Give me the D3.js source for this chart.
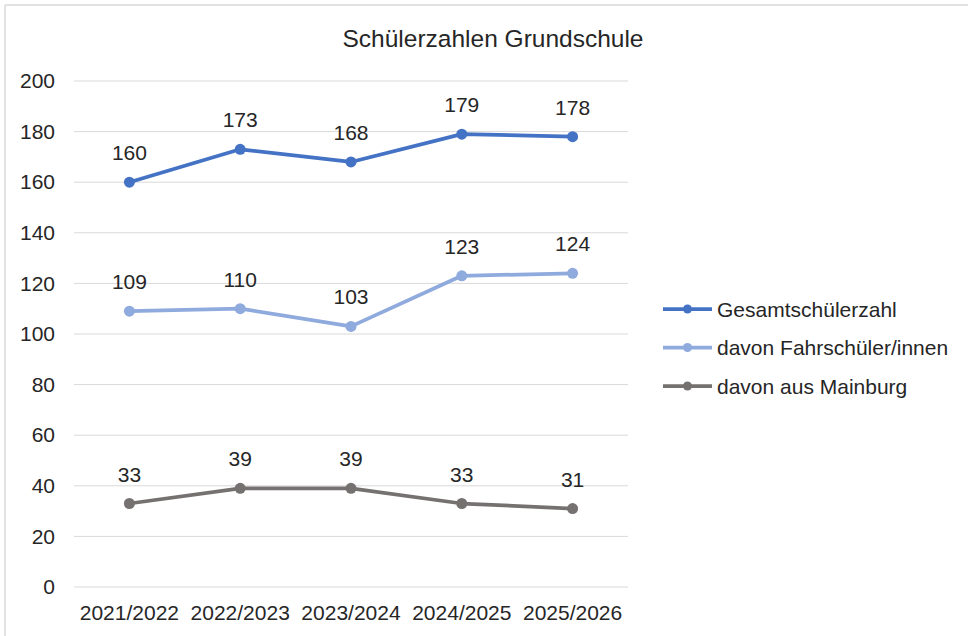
<!DOCTYPE html>
<html>
<head>
<meta charset="utf-8">
<script src="https://cdn.jsdelivr.net/npm/d3@7"></script>
<style>
  body { margin: 0; background: #fff; }
  text { font-family: "Liberation Sans", Arial, sans-serif; fill: #262626; }
  .grid line { stroke: #d9d9d9; stroke-width: 1; }
</style>
</head>
<body>
<script>
(function(){

//chart data
var categories = ["2021/2022", "2022/2023", "2023/2024", "2024/2025", "2025/2026"];
var seriesNames = ["Gesamtschülerzahl", "davon Fahrschüler/innen", "davon aus Mainburg"];
var gesamt = [160, 173, 168, 179, 178];
var fahrschueler = [109, 110, 103, 123, 124];
var mainburg = [33, 39, 39, 33, 31];
var yTicks = [0, 20, 40, 60, 80, 100, 120, 140, 160, 180, 200];
var colors = ["#4472c4", "#8faadc", "#767171"];

var series = [gesamt, fahrschueler, mainburg];

var width = 968, height = 636;

var svg = d3.select("body").append("svg")
    .attr("width", width)
    .attr("height", height);

//chart frame (cropped: only top and left edges visible)
svg.append("line").attr("x1", 5).attr("x2", width).attr("y1", 5).attr("y2", 5)
    .attr("stroke", "#d9d9d9").attr("stroke-width", 1.5);
svg.append("line").attr("x1", 5).attr("x2", 5).attr("y1", 5).attr("y2", height)
    .attr("stroke", "#d9d9d9").attr("stroke-width", 1.5);

//plot area
var x = d3.scaleBand().domain(categories).range([74, 628]);
var y = d3.scaleLinear().domain([0, 200]).range([587, 81]);

//gridlines
svg.append("g").attr("class", "grid")
    .selectAll("line")
    .data(yTicks)
    .enter()
    .append("line")
    .attr("x1", 74).attr("x2", 628)
    .attr("y1", function(d){ return y(d); })
    .attr("y2", function(d){ return y(d); });

//y axis labels
var yAxis = d3.axisLeft(y).tickValues(yTicks).tickSize(0).tickPadding(0);
var yg = svg.append("g").attr("transform", "translate(55,0)").call(yAxis);
yg.select(".domain").remove();
yg.selectAll("text").style("font-size", "21px").attr("fill", "#262626");

//x axis labels
var xAxis = d3.axisBottom(x).tickSize(0).tickPadding(0);
var xg = svg.append("g").attr("transform", "translate(0,605)").call(xAxis);
xg.select(".domain").remove();
xg.selectAll("text").style("font-size", "21px").attr("fill", "#262626");

//title
svg.append("text")
    .attr("x", 493).attr("y", 47)
    .attr("text-anchor", "middle")
    .style("font-size", "24.5px")
    .text("Schülerzahlen Grundschule");

var line = d3.line()
    .x(function(d, i){ return x(categories[i]) + x.bandwidth() / 2; })
    .y(function(d){ return y(d); });

series.forEach(function(values, s){
    var g = svg.append("g");
    g.append("path")
        .datum(values)
        .attr("d", line)
        .attr("fill", "none")
        .attr("stroke", colors[s])
        .attr("stroke-width", 3.75)
        .attr("stroke-linejoin", "round")
        .attr("stroke-linecap", "round");
    g.selectAll("circle")
        .data(values)
        .enter()
        .append("circle")
        .attr("cx", function(d, i){ return x(categories[i]) + x.bandwidth() / 2; })
        .attr("cy", function(d){ return y(d); })
        .attr("r", 5.5)
        .attr("fill", colors[s]);
    g.selectAll("text")
        .data(values)
        .enter()
        .append("text")
        .attr("x", function(d, i){ return x(categories[i]) + x.bandwidth() / 2; })
        .attr("y", function(d){ return y(d) - 22; })
        .attr("text-anchor", "middle")
        .style("font-size", "21px")
        .text(function(d){ return d; });
});

//legend
var legend = svg.selectAll(".legend")
    .data(seriesNames)
    .enter()
    .append("g")
    .attr("class", "legend")
    .attr("transform", function(d, i){ return "translate(663," + (309 + i * 38.5) + ")"; });

legend.append("line")
    .attr("x1", 0).attr("x2", 49)
    .attr("stroke", function(d, i){ return colors[i]; })
    .attr("stroke-width", 3.75);
legend.append("circle")
    .attr("cx", 24.5).attr("r", 4.5)
    .attr("fill", function(d, i){ return colors[i]; });
legend.append("text")
    .attr("x", 54).attr("y", 7.5)
    .style("font-size", "21px")
    .text(function(d){ return d; });

})();
</script>
</body>
</html>
